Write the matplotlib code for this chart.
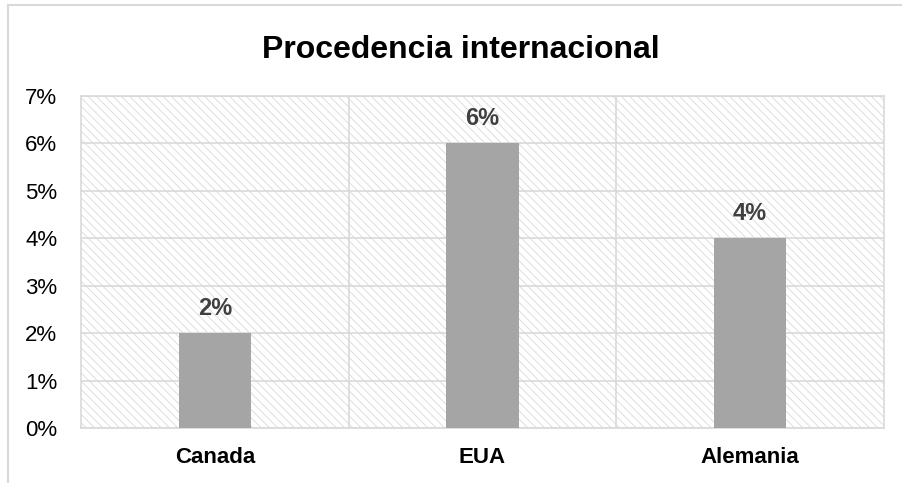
import matplotlib
matplotlib.use('Agg')
from matplotlib import pyplot as plt
from matplotlib.patches import Rectangle
from matplotlib.ticker import PercentFormatter

paises = ['Canada', 'EUA', 'Alemania']
porcentajes = [2, 6, 4]
y_ticks = [0, 1, 2, 3, 4, 5, 6, 7]

plt.rcParams['font.family'] = ['Liberation Sans', 'DejaVu Sans']
plt.rcParams['hatch.linewidth'] = 0.6
plt.rcParams['hatch.color'] = '#d9d9d9'

fig = plt.figure(figsize=(9.02, 4.83), dpi=100)
ax = fig.add_axes([81/902, 55/483, 803/902, 332/483])

# marco exterior del grafico
fig.patches.append(Rectangle((8/902, -0.05), 1.0, 1.05 - 5/483, transform=fig.transFigure,
                             fill=False, edgecolor='#d9d9d9', linewidth=1.5))

# fondo rayado
ax.add_patch(Rectangle((0, 0), 1, 1, transform=ax.transAxes, facecolor='white',
                       edgecolor='#d9d9d9', hatch='\\\\\\\\', linewidth=0, zorder=0))

x = range(len(paises))
ax.bar(x, porcentajes, width=0.27, color='#a5a5a5', zorder=3)

for i, v in zip(x, porcentajes):
    ax.text(i, v + 0.28, f'{v}%', ha='center', va='bottom', fontsize=17,
            fontweight='bold', color='#404040', zorder=4)

ax.set_xlim(-0.5, 2.5)
ax.set_ylim(0, 7)
ax.set_yticks(y_ticks)
ax.yaxis.set_major_formatter(PercentFormatter(decimals=0))
ax.set_xticks(list(x))
ax.set_xticklabels(paises, fontsize=16, fontweight='bold')
ax.tick_params(axis='y', labelsize=16, length=0, pad=17)
ax.tick_params(axis='x', length=0, pad=14)

ax.grid(axis='y', color='#d9d9d9', linewidth=1.2, zorder=1)
for b in [0.5, 1.5]:
    ax.axvline(b, color='#d9d9d9', linewidth=1.2, zorder=1)
for s in ax.spines.values():
    s.set_color('#d9d9d9')
    s.set_linewidth(1.2)
ax.set_axisbelow(True)

fig.text(461/902, 1 - 50/483, 'Procedencia internacional', ha='center', va='center',
         fontsize=23, fontweight='bold')

fig.savefig('out.png', dpi=100)
